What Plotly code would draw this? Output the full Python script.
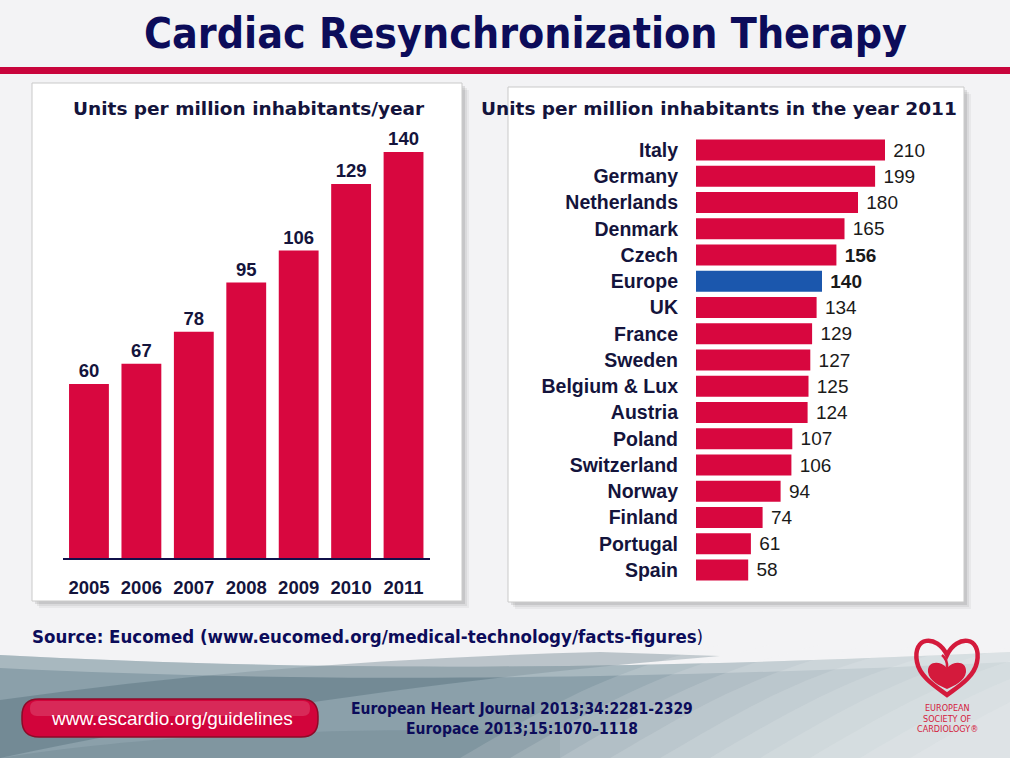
import re
import plotly.graph_objects as go

# ---------------- data ----------------
years = ["2005", "2006", "2007", "2008", "2009", "2010", "2011"]
units_per_year = [60, 67, 78, 95, 106, 129, 140]

countries = ["Italy", "Germany", "Netherlands", "Denmark", "Czech", "Europe", "UK",
             "France", "Sweden", "Belgium & Lux", "Austria", "Poland", "Switzerland",
             "Norway", "Finland", "Portugal", "Spain"]
units_2011 = [210, 199, 180, 165, 156, 140, 134, 129, 127, 125, 124, 107, 106, 94, 74, 61, 58]
bold_value_labels = ["Czech", "Europe"]
highlight_country = "Europe"

title_text = "Cardiac Resynchronization Therapy"
left_subtitle = "Units per million inhabitants/year"
right_subtitle = "Units per million inhabitants in the year 2011"
source_text = "Source: Eucomed (www.eucomed.org/medical-technology/facts-figures)"
journal_lines = ["European Heart Journal 2013;34:2281-2329", "Europace 2013;15:1070\u20131118"]
url_text = "www.escardio.org/guidelines"
logo_lines = ["EUROPEAN", "SOCIETY OF", "CARDIOLOGY\u00ae"]

# ---------------- style ----------------
W, H = 1010, 758
RED = "#d8073f"
BLUE = "#1b57ad"
NAVY = "#0c0c5a"
DARK = "#14143c"
LOGO_RED = "#d41a3c"
ARIAL = "Liberation Sans, Arial, sans-serif"
WIDE = "DejaVu Sans, Verdana, sans-serif"
NARROW = "DejaVu Sans Condensed, Arial Narrow, sans-serif"


def px(x):
    return x / W


def py(y):
    return 1 - y / H


def pix_path(d):
    toks = re.findall(r"[A-Za-z]|-?\d+\.?\d*", d)
    out, nums = [], []
    for t in toks:
        if t.isalpha():
            out.append(t)
        else:
            nums.append(float(t))
            if len(nums) == 2:
                out.append(f"{px(nums[0]):.5f},{py(nums[1]):.5f}")
                nums = []
    return " ".join(out)


def rrect(x0, y0, x1, y1, r):
    return pix_path(
        f"M {x0+r} {y0} L {x1-r} {y0} Q {x1} {y0} {x1} {y0+r} L {x1} {y1-r} Q {x1} {y1} {x1-r} {y1} "
        f"L {x0+r} {y1} Q {x0} {y1} {x0} {y1-r} L {x0} {y0+r} Q {x0} {y0} {x0+r} {y0} Z")


def deco(path, fill, layer="below", line=None):
    return dict(type="path", xref="paper", yref="paper", layer=layer,
                line=line or dict(width=0), fillcolor=fill, path=path)


fig = go.Figure()

# left chart: units per year
fig.add_trace(go.Bar(
    x=years, y=units_per_year, xaxis="x", yaxis="y",
    marker=dict(color=RED, line=dict(width=0)), width=0.76,
    text=[f"<b>{v}</b>" for v in units_per_year], textposition="outside",
    textfont=dict(family=ARIAL, size=18.5, color=DARK), cliponaxis=False,
    hoverinfo="x+y"))

# right chart: countries 2011
fig.add_trace(go.Bar(
    x=units_2011, y=countries, orientation="h", xaxis="x2", yaxis="y2",
    marker=dict(color=[BLUE if c == highlight_country else RED for c in countries], line=dict(width=0)),
    width=0.8,
    text=[f" <b>{v}</b>" if c in bold_value_labels else f" {v}" for c, v in zip(countries, units_2011)],
    textposition="outside", textfont=dict(family=ARIAL, size=19, color="#1a1a1a"),
    cliponaxis=False, hoverinfo="x+y"))

shapes = []
# bottom decorative background
shapes.append(deco(pix_path("M 0 655 C 250 668 550 674 1010 652 L 1010 758 L 0 758 Z"), "#8ba0aa"))
shapes.append(deco(pix_path("M 0 700 C 200 672 400 657 600 652 L 720 656 C 500 674 250 705 0 758 Z"),
                   "rgba(60,88,104,0.30)"))
shapes.append(deco(pix_path("M 0 758 C 150 735 300 728 560 730 L 560 758 Z"), "rgba(70,95,110,0.15)"))
for i in range(10):
    x0 = 460 + 50 * i
    shapes.append(deco(pix_path(f"M {x0} 758 C {x0+90} 705 {x0+150} 670 {x0+260} 645 L 1010 645 L 1010 758 Z"),
                       "rgba(245,247,248,0.14)"))
shapes.append(deco(pix_path("M 0 655 C 250 668 550 674 1010 652 L 1010 662 C 550 684 250 680 0 668 Z"),
                   "rgba(255,255,255,0.25)"))
# red rule under title
shapes.append(dict(type="rect", xref="paper", yref="paper", layer="below", line=dict(width=0),
                   fillcolor="#c8043c", x0=0, x1=1, y0=py(74), y1=py(67)))
# panel shadows + boxes
for (x0, y0, x1, y1) in [(32, 83, 462, 601), (508, 87, 964, 602)]:
    for off, a in [(7, 0.06), (5, 0.08), (3, 0.12)]:
        shapes.append(dict(type="rect", xref="paper", yref="paper", layer="below", line=dict(width=0),
                           fillcolor=f"rgba(60,60,60,{a})",
                           x0=px(x0 + off), x1=px(x1 + off), y0=py(y1 + off), y1=py(y0 + off)))
    shapes.append(dict(type="rect", xref="paper", yref="paper", layer="below",
                       line=dict(width=1, color="#c9c9c9"), fillcolor="white",
                       x0=px(x0), x1=px(x1), y0=py(y1), y1=py(y0)))
# url pill
shapes.append(deco(rrect(22, 699, 318, 737, 17), "#d2043b", line=dict(width=1.5, color="#8e0a28")))
shapes.append(deco(rrect(30, 701, 310, 716, 7), "rgba(255,255,255,0.15)"))
# ESC heart logo
shapes.append(deco(pix_path("M 947 655 C 937 634 912 636 917 662 C 920 678 938 688 947 695 "
                            "C 956 688 974 678 977 662 C 982 636 957 634 947 655 Z"),
                   "rgba(0,0,0,0)", layer="above", line=dict(width=4.5, color=LOGO_RED)))
shapes.append(deco(pix_path("M 947 668 C 940 660 927 661 928 672 C 929 681 940 686 947 689 "
                            "C 954 686 965 681 966 672 C 967 661 954 660 947 668 Z"),
                   LOGO_RED, layer="above"))
shapes.append(deco(pix_path("M 947 668 Q 948 660 942 655"), "rgba(0,0,0,0)", layer="above",
                   line=dict(width=2.5, color=LOGO_RED)))

annotations = []


def ann(text, x, y, font, xanchor="center"):
    annotations.append(dict(text=text, x=px(x), y=py(y), xref="paper", yref="paper",
                            showarrow=False, xanchor=xanchor, yanchor="middle", font=font))


ann(f"<b>{title_text}</b>", 525, 33, dict(family=NARROW, size=42.5, color=NAVY))
ann(f"<b>{left_subtitle}</b>", 249, 108, dict(family=WIDE, size=18.5, color=DARK))
ann(f"<b>{right_subtitle}</b>", 719, 108, dict(family=WIDE, size=18.5, color=DARK))
ann(f"<b>{source_text[:-1]}</b>)", 30, 636, dict(family=NARROW, size=18.5, color=NAVY), xanchor="left")
for i, line in enumerate(journal_lines):
    ann(f"<b>{line}</b>", 522, 709 + 20 * i, dict(family=NARROW, size=15.5, color=NAVY))
ann(url_text, 172, 718, dict(family=ARIAL, size=19, color="white"))
for i, line in enumerate(logo_lines):
    ann(line, 947, 708 + 10.5 * i, dict(family=NARROW, size=9, color=LOGO_RED))

fig.update_layout(
    width=W, height=H, autosize=False,
    margin=dict(l=0, r=0, t=0, b=0, pad=0),
    paper_bgcolor="#f3f3f5", plot_bgcolor="rgba(0,0,0,0)",
    showlegend=False,
    shapes=shapes, annotations=annotations,
    xaxis=dict(domain=[px(62.75), px(429.75)], type="category", anchor="y",
               showline=True, linecolor="#10104a", linewidth=2, ticks="", showgrid=False,
               tickfont=dict(family=ARIAL, size=18.5, color=DARK), ticklabelstandoff=12,
               tickprefix="<b>", ticksuffix="</b>", fixedrange=True),
    yaxis=dict(domain=[py(558), py(120)], range=[0, (558 - 120) / 2.9], visible=False,
               anchor="x", fixedrange=True),
    xaxis2=dict(domain=[px(696), px(960)], range=[0, 264 / 0.9], visible=False,
                anchor="y2", fixedrange=True),
    yaxis2=dict(domain=[py(583.125), py(136.875)], type="category", categoryorder="array",
                categoryarray=countries, range=[16.5, -0.5], anchor="x2",
                showline=False, ticks="", showgrid=False, zeroline=False,
                tickfont=dict(family=ARIAL, size=19.5, color=DARK), ticklabelstandoff=17,
                tickprefix="<b>", ticksuffix="</b>", fixedrange=True),
)

fig.write_html("out.html", config={"displayModeBar": False},
               post_script="document.body.style.margin='0';document.body.style.overflow='hidden';")
